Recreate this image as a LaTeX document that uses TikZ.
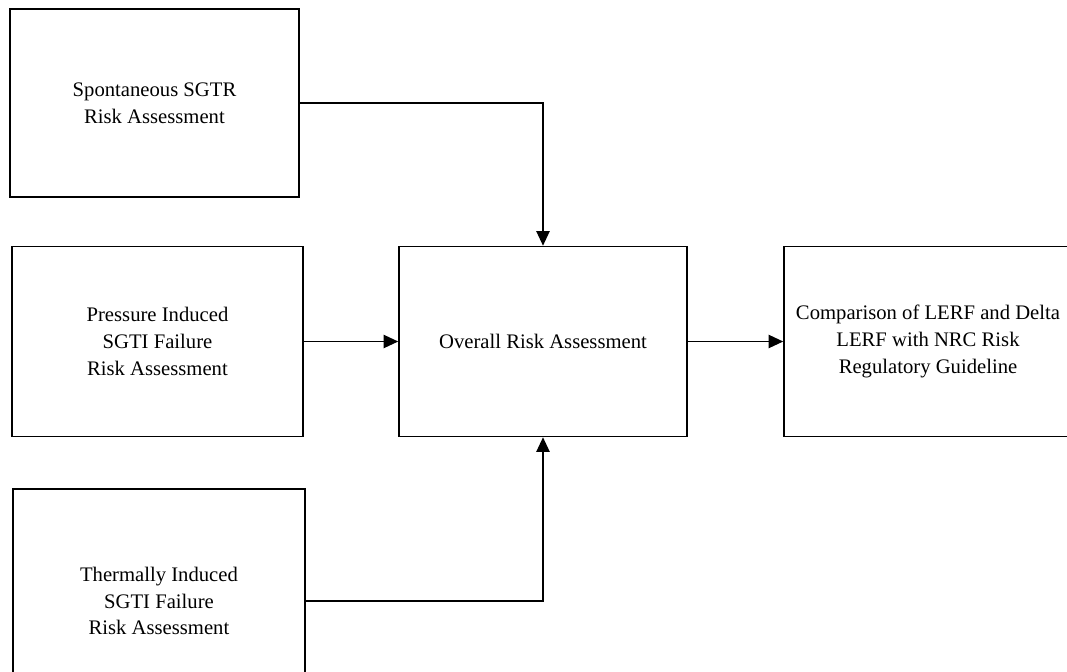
\documentclass[tikz,border=0pt]{standalone}
\usepackage{fontspec}
\setmainfont{Liberation Serif}
\usetikzlibrary{arrows.meta}

\begin{document}
\begin{tikzpicture}[x=0.75pt,y=-0.75pt]
\useasboundingbox (0,0) rectangle (1067,671);
\clip (0,0) rectangle (1067,671);
\begin{scope}[every node/.style={rectangle, draw, line width=1.2pt, align=center,
                                 font=\fontsize{15.5}{20}\selectfont}]
    \node[minimum width=216.75pt, minimum height=141pt] (spont) at (154.5,103) {Spontaneous SGTR\\Risk Assessment};
    \node[minimum width=218.25pt, minimum height=142.5pt] (press) at (157.5,341.5) {Pressure Induced\\SGTI Failure\\Risk Assessment};
    \node[minimum width=219pt, minimum height=168pt] (therm) at (159,601) {Thermally Induced\\SGTI Failure\\Risk Assessment};
    \node[minimum width=216pt, minimum height=142.5pt] (overall) at (543,341.5) {Overall Risk Assessment};
    \node[minimum width=216pt, minimum height=142.5pt] (comp) at (928,341.5) {Comparison of LERF and Delta\\LERF with NRC Risk\\Regulatory Guideline};
\end{scope}

\begin{scope}[>={Triangle[length=11pt, width=10pt]}, line width=1.2pt]
    \draw [->] (spont.east) -| (overall.north);
    \draw [->] (press.east) -- (overall.west);
    \draw [->] (therm.east) -| (overall.south);
    \draw [->] (overall.east) -- (comp.west);
\end{scope}
\end{tikzpicture}
\end{document}
